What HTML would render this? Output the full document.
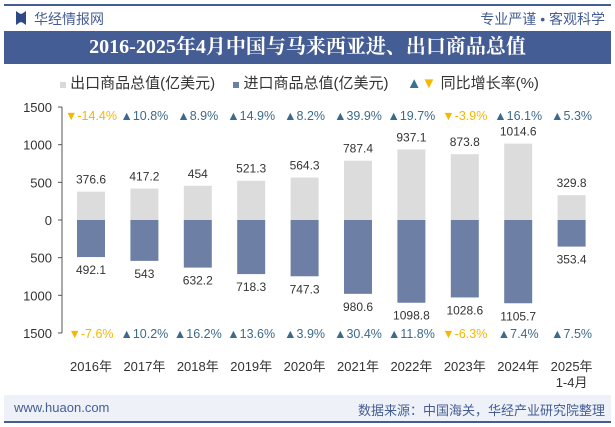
<!DOCTYPE html>
<html><head><meta charset="utf-8"><style>
body{margin:0;width:615px;height:427px;background:#fff;font-family:"Liberation Sans","Noto Sans CJK SC",sans-serif;overflow:hidden;position:relative}
.abs{position:absolute}
</style></head><body>
<div class="abs" style="left:4px;top:4px;width:607px;height:2px;background:#445d94"></div>
<div class="abs" style="left:16px;top:11px;width:10px;height:14px;background:#2e4a86;clip-path:polygon(0 0,40% 20%,60% 20%,100% 0,100% 100%,60% 80%,40% 80%,0 100%)"></div>
<div class="abs" style="left:34px;top:9px;font-size:14px;color:#445d94">华经情报网</div>
<div class="abs" style="right:10px;top:9px;font-size:14px;color:#445d94">专业严谨 • 客观科学</div>
<div class="abs" style="left:4px;top:31px;width:607px;height:33px;background:#445d94;color:#fff;font-family:'Liberation Serif','Noto Serif CJK SC',serif;font-weight:bold;font-size:20px;line-height:33px;text-align:center">2016-2025年4月中国与马来西亚进、出口商品总值</div>
<div class="abs" style="left:60px;top:72px;font-size:15px;color:#333;white-space:nowrap">
<span><span style="display:inline-block;width:6px;height:6px;background:#d9d9d9"></span> 出口商品总值(亿美元)</span>
<span style="margin-left:14px"><span style="display:inline-block;width:6px;height:6px;background:#6e7fa6"></span> 进口商品总值(亿美元)</span>
<span style="margin-left:14px"><span style="color:#3a7090">▲</span><span style="color:#f5b800">▼</span> 同比增长率(%)</span>
</div>
<svg class="abs" style="left:0;top:0" width="615" height="427" id="chart"></svg>
<div class="abs" style="left:4px;top:395px;width:607px;height:26px;background:#eef1f7"></div>
<div class="abs" style="left:14px;top:400px;font-size:13px;color:#445d94">www.huaon.com</div>
<div class="abs" style="right:10px;top:400px;font-size:13px;color:#445d94">数据来源：中国海关，华经产业研究院整理</div>
<div class="abs" style="left:4px;top:421px;width:607px;height:2px;background:#445d94"></div>
<script>
const categories=["2016年","2017年","2018年","2019年","2020年","2021年","2022年","2023年","2024年","2025年\n1-4月"];
const exportVals=[376.6,417.2,454,521.3,564.3,787.4,937.1,873.8,1014.6,329.8];
const importVals=[492.1,543,632.2,718.3,747.3,980.6,1098.8,1028.6,1105.7,353.4];
const exportGrowth=[-14.4,10.8,8.9,14.9,8.2,39.9,19.7,-3.9,16.1,5.3];
const importGrowth=[-7.6,10.2,16.2,13.6,3.9,30.4,11.8,-6.3,7.4,7.5];
const yTicks=[1500,1000,500,0,500,1000,1500];
const yTickVals=[1500,1000,500,0,-500,-1000,-1500];
const svg=document.getElementById('chart');const NS='http://www.w3.org/2000/svg';
const y0=220,k=0.0753;
function y(v){return y0-v*k;}
function x(i){return 91+i*53.4;}
function el(t,a,txt){const e=document.createElementNS(NS,t);for(const q in a)e.setAttribute(q,a[q]);if(txt!=null)e.textContent=txt;svg.appendChild(e);return e;}
const ax=el('line',{x1:62,x2:62,y1:y(1500),y2:y(-1500),stroke:'#555'});

yTickVals.forEach((v,i)=>{
 const t=el('line',{x1:58,x2:62,y1:y(v),y2:y(v),stroke:'#555'});
 
 const l=el('text',{x:52,y:y(v)+5,'text-anchor':'end','font-size':13,fill:'#333'},yTicks[i]);
 
});
categories.forEach((c,i)=>{
 const cx=x(i),w=28;
 const b1=el('rect',{x:cx-w/2,y:y(exportVals[i]),width:w,height:exportVals[i]*k,fill:'#dcdcdc'});
 
 const b2=el('rect',{x:cx-w/2,y:y0,width:w,height:importVals[i]*k,fill:'#6e7fa6'});
 
 const l1=el('text',{x:cx,y:y(exportVals[i])-8,'text-anchor':'middle','font-size':12,fill:'#333'},exportVals[i]);
 
 const l2=el('text',{x:cx,y:y0+importVals[i]*k+17,'text-anchor':'middle','font-size':12,fill:'#333'},importVals[i]);
 
 [[exportGrowth[i],120,'export-growth'],[importGrowth[i],338,'import-growth']].forEach(([g,yy,n])=>{
  const up=g>=0;
  const t=el('text',{x:cx,y:yy,'text-anchor':'middle','font-size':12.5,fill:up?'#3d6a8a':'#f5b800'},(up?'▲':'▼')+g+'%');
  
 });
 const parts=c.split('\n');
 parts.forEach((p,j)=>{
  const t=el('text',{x:cx,y:371+j*16,'text-anchor':'middle','font-size':13,fill:'#333'},p);
  
 });
});
</script>
</body></html>
